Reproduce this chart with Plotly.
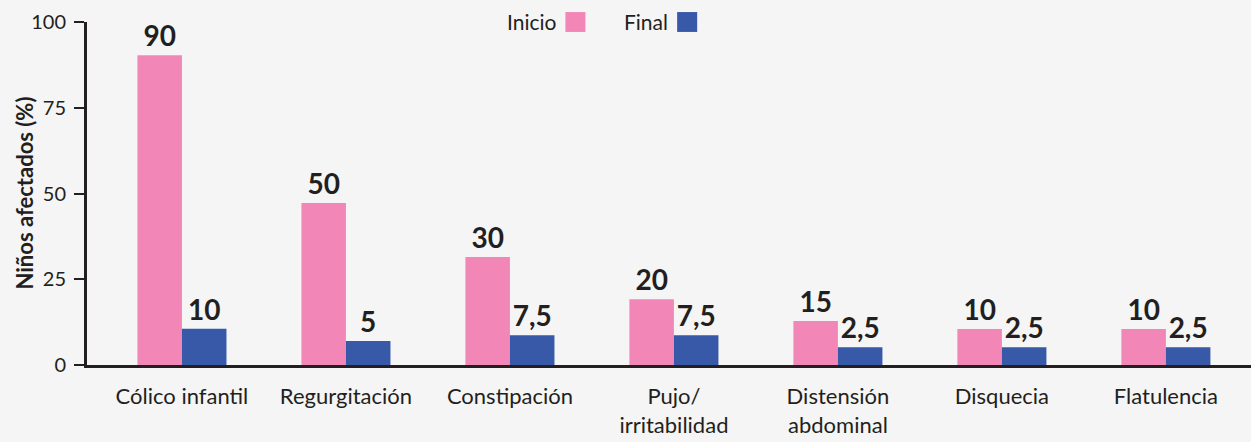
import plotly.graph_objects as go

categories = ["Cólico infantil", "Regurgitación", "Constipación", "Pujo/<br>irritabilidad",
              "Distensión<br>abdominal", "Disquecia", "Flatulencia"]
inicio_values = [90.3, 47.2, 31.5, 19.2, 12.8, 10.5, 10.5]
final_values = [10.6, 7.0, 8.7, 8.7, 5.2, 5.2, 5.2]
inicio_labels = ["90", "50", "30", "20", "15", "10", "10"]
final_labels = ["10", "5", "7,5", "7,5", "2,5", "2,5", "2,5"]
y_ticks = [0, 25, 50, 75, 100]

PINK = "#f287b7"
BLUE = "#3759a8"
INK = "#231f20"
BG = "#f5f5f5"
FONT = "Lato"

fig = go.Figure()
fig.add_trace(go.Bar(name="Inicio", x=categories, y=inicio_values, text=inicio_labels,
                     marker=dict(color=PINK, line=dict(width=0)),
                     textposition="outside", cliponaxis=False,
                     textfont=dict(family=FONT, size=28, color=INK, weight="bold")))
fig.add_trace(go.Bar(name="Final", x=categories, y=final_values, text=final_labels,
                     marker=dict(color=BLUE, line=dict(width=0)),
                     textposition="outside", cliponaxis=False,
                     textfont=dict(family=FONT, size=28, color=INK, weight="bold")))

fig.update_layout(
    width=1251, height=442,
    margin=dict(l=87, r=0, t=22, b=77, autoexpand=False),
    paper_bgcolor=BG, plot_bgcolor=BG,
    barmode="group", bargap=0.457, bargroupgap=0,
    showlegend=False,
    font=dict(family=FONT, color=INK),
)
fig.update_xaxes(
    range=[-0.579, 6.519], showline=True, linecolor=INK, linewidth=3,
    showgrid=False, zeroline=False, ticks="", ticklabelstandoff=10, automargin=False,
    tickfont=dict(family=FONT, size=22, color=INK),
)
fig.update_yaxes(
    range=[0, 100], tickvals=y_ticks, showline=True, linecolor=INK, linewidth=3,
    showgrid=False, zeroline=False, ticks="outside", ticklen=10, tickwidth=2, tickcolor=INK,
    ticklabelstandoff=4, automargin=False,
    tickfont=dict(family=FONT, size=20, color=INK),
)

# y-axis title
fig.add_annotation(xref="paper", yref="paper", x=-0.0541, y=0.5, textangle=-90,
                   text="<b>Niños afectados (%)</b>", showarrow=False,
                   xanchor="center", yanchor="middle",
                   font=dict(family=FONT, size=22, color=INK))

# legend drawn as text followed by a swatch, as in the reference
legend_items = [("Inicio", PINK, 0.359, 0.411), ("Final", BLUE, 0.4596, 0.507)]
for name, color, xtext, xbox in legend_items:
    fig.add_annotation(xref="paper", yref="paper", x=xtext, y=1.0, yshift=1,
                       text=name, showarrow=False, xanchor="left", yanchor="middle",
                       font=dict(family=FONT, size=21, color=INK))
    fig.add_shape(type="rect", xref="paper", yref="paper",
                  x0=xbox, x1=xbox + 0.0172, y0=0.971, y1=1.029,
                  fillcolor=color, line=dict(width=0))

fig.write_html("out.html", config={"displayModeBar": False},
               post_script="document.body.style.margin='0';document.body.style.background='%s';" % BG)
